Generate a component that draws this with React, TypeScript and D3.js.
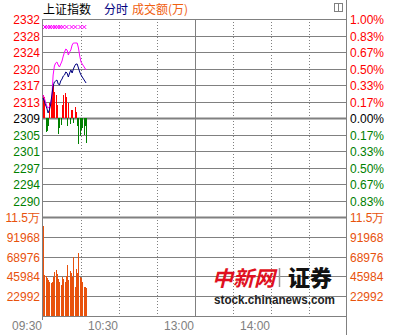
import React from "react";
import * as d3 from "d3";

// ---- data ----
const BASE = 2309.0;
const priceTicks = ["2332", "2328", "2324", "2320", "2317", "2313", "2309", "2305", "2301", "2297", "2294", "2290"];
const pctTicks = ["1.00%", "0.83%", "0.67%", "0.50%", "0.33%", "0.17%", "0.00%", "0.17%", "0.33%", "0.50%", "0.67%", "0.83%"];
const volTicks = ["11.5万", "91968", "68976", "45984", "22992"];
const volTickValues = [114960, 91968, 68976, 45984, 22992];
const timeLabels = ["09:30", "10:30", "13:00", "14:00"];
const timeLabelMinutes = [0, 60, 120, 180];

// index (navy) per minute from 09:30
const indexLine = [
  2313.66, 2312.96, 2312.03, 2311.33, 2310.17, 2310.87, 2312.03, 2314.36, 2316.46, 2317.4,
  2317.63, 2317.86, 2316.93, 2316.7, 2317.63, 2318.09, 2318.79, 2319.03, 2319.73, 2319.49,
  2318.56, 2319.49, 2320.19, 2319.49, 2320.43, 2321.13, 2321.59, 2321.59, 2320.66, 2319.73,
  2319.03, 2318.56, 2318.09, 2317.63, 2317.16,
];
// leading index (magenta)
const leadLine = [
  2314.36, 2313.66, 2312.73, 2311.8, 2311.33, 2311.57, 2312.26, 2313.9, 2319.03, 2321.13,
  2321.83, 2322.06, 2321.36, 2320.89, 2321.59, 2322.29, 2323.46, 2324.39, 2325.09, 2324.86,
  2323.69, 2324.39, 2324.86, 2326.02, 2326.49, 2326.49, 2326.49, 2326.49, 2325.32, 2323.46,
  2322.06, 2321.59, 2321.13, 2320.66, 2320.19,
];
// buy/sell strength bars (points relative to base)
const strength = [
  5.4, 4.9, -3.3, -3.0, -1.9, 3.5, 4.2, 7.9, 7.7, 6.1,
  5.4, 3.0, -3.7, -2.3, -1.6, 3.0, 5.4, 5.8, 4.9, -1.9,
  3.5, -1.4, 1.9, 1.9, -1.2, 2.6, 1.4, -1.9, -6.1, -4.2,
  -2.8, -2.3, -4.0, -1.9, -5.8,
];
// volume per minute (万)
const volume = [
  104500, 47600, 46400, 44100, 41800, 39500, 38300, 40000, 45300, 51100,
  53400, 48800, 43000, 39500, 36000, 45300, 43000, 40000, 46400, 59200,
  41800, 52200, 49900, 45300, 68500, 33700, 54600, 50000, 73100, 45300,
  44100, 39500, 33700, 33700, 32500,
];
const markerMinutes = [0, 2, 4, 6, 8, 10, 12, 14, 17, 21, 24, 28, 31];

// ---- layout ----
const W = 395, H = 335;
const X0 = 43, X1 = 347;
const PY_TOP = 19, PY_BOT = 217;
const VY_TOP = 217, VY_BOT = 316;

const GRAY = "#808080";
const RED = "#ff0000";
const GREEN = "#008000";
const ORANGE = "#e8520c";
const NUM_FONT = "'Liberation Sans', Arial, sans-serif";
const CJK_FONT = "'Noto Sans CJK SC', sans-serif";

export default function App() {
  const x = d3.scaleLinear().domain([0, 240]).range([X0, X1]);
  const y = d3.scaleLinear().domain([BASE * 0.99, BASE * 1.01]).range([PY_BOT, PY_TOP]);
  const yv = d3.scaleLinear().domain([0, 114960]).range([VY_BOT, VY_TOP]);

  const line = d3.line<number>().x((_, i) => x(i)).y((d) => y(d));

  const priceGridY = d3.range(12).map((i) => PY_TOP + (i * (PY_BOT - PY_TOP)) / 12);
  const dotted = [30, 60, 90, 150, 180, 210];

  const labelColor = (i: number) => (i < 6 ? RED : i === 6 ? "#000" : GREEN);

  return (
    <svg width={W} height={H} style={{ position: "absolute", left: 0, top: 0, background: "#fff" }}>
      <rect x={0} y={0} width={W} height={H} fill="#fff" />
      {/* title */}
      <text x={43} y={14} fontFamily={CJK_FONT} fontSize={12} fill="#000">上证指数</text>
      <text x={104} y={14} fontFamily={CJK_FONT} fontSize={12} fill="#000080">分时</text>
      <text x={132} y={14} fontFamily={CJK_FONT} fontSize={12} fill="#f06010">成交额(万)</text>
      {/* icon */}
      <rect x={334.5} y={3.5} width={8} height={8} fill="none" stroke={GRAY} />
      <line x1={338.5} x2={338.5} y1={3.5} y2={11.5} stroke={GRAY} />

      {/* price horizontal grid */}
      {priceGridY.map((gy, i) => (
        <line key={"pg" + i} x1={X0} x2={X1} y1={Math.round(gy) + 0.5} y2={Math.round(gy) + 0.5}
          stroke={GRAY} strokeWidth={i === 6 ? 2 : 1} />
      ))}
      {/* volume grid */}
      {volTickValues.slice(1).map((v, i) => (
        <line key={"vg" + i} x1={X0} x2={X1} y1={Math.round(yv(v)) + 0.5} y2={Math.round(yv(v)) + 0.5}
          stroke={GRAY} strokeWidth={1} />
      ))}
      <line x1={X0} x2={X1} y1={VY_TOP + 0.5} y2={VY_TOP + 0.5} stroke={GRAY} strokeWidth={2} />
      <line x1={42} x2={X1} y1={VY_BOT + 0.5} y2={VY_BOT + 0.5} stroke={GRAY} strokeWidth={1} />
      {/* verticals */}
      {dotted.map((m) => (
        <line key={"dv" + m} x1={Math.round(x(m)) + 0.5} x2={Math.round(x(m)) + 0.5} y1={PY_TOP} y2={VY_BOT}
          stroke={GRAY} strokeDasharray="1,2" />
      ))}
      <line x1={Math.round(x(120)) + 0.5} x2={Math.round(x(120)) + 0.5} y1={PY_TOP} y2={VY_BOT} stroke={GRAY} />
      <line x1={42.5} x2={42.5} y1={PY_TOP} y2={320} stroke={GRAY} />
      <line x1={346.5} x2={346.5} y1={0} y2={H} stroke={GRAY} />

      {/* strength bars */}
      <g shapeRendering="crispEdges">
        {strength.map((s, i) => {
          const y0 = y(BASE), y1 = y(BASE + s);
          return (
            <rect key={"sb" + i} x={Math.round(x(i))} width={1} y={Math.min(y0, y1)} height={Math.abs(y1 - y0)}
              fill={s >= 0 ? RED : GREEN} />
          );
        })}
      </g>

      {/* volume bars */}
      <g shapeRendering="crispEdges">
        {volume.map((v, i) => (
          <rect key={"vb" + i} x={Math.round(x(i))} width={1} y={yv(v)} height={VY_BOT - yv(v)} fill={ORANGE} />
        ))}
      </g>

      {/* lines */}
      <path d={line(leadLine) || ""} fill="none" stroke="#ff00ff" strokeWidth={1} />
      <path d={line(indexLine) || ""} fill="none" stroke="#000080" strokeWidth={1} />

      {/* markers */}
      {markerMinutes.map((m, i) => {
        const cx = x(m) + 2, cy = 27;
        return (
          <g key={"mk" + i} stroke="#ff00ff" strokeWidth={1}>
            <line x1={cx - 2} x2={cx + 2} y1={cy - 2} y2={cy + 2} />
            <line x1={cx - 2} x2={cx + 2} y1={cy + 2} y2={cy - 2} />
          </g>
        );
      })}

      {/* left price labels */}
      {priceTicks.map((t, i) => (
        <text key={"pl" + i} x={40} y={priceGridY[i] + 5} textAnchor="end" fontFamily={NUM_FONT}
          fontSize={12} fill={labelColor(i)}>{t}</text>
      ))}
      {/* right pct labels */}
      {pctTicks.map((t, i) => (
        <text key={"pr" + i} x={350} y={priceGridY[i] + 5} fontFamily={NUM_FONT} fontSize={12}
          fill={labelColor(i)}>{t}</text>
      ))}
      {/* volume labels */}
      {volTicks.map((t, i) => (
        <g key={"vl" + i}>
          <text x={40} y={yv(volTickValues[i]) + 5} textAnchor="end" fontFamily={NUM_FONT} fontSize={12} fill={ORANGE}>{t}</text>
          <text x={350} y={yv(volTickValues[i]) + 5} fontFamily={NUM_FONT} fontSize={12} fill={ORANGE}>{t}</text>
        </g>
      ))}
      {/* time labels */}
      {timeLabels.map((t, i) => (
        <text key={"tl" + i} x={x(timeLabelMinutes[i]) - 1} y={330} textAnchor="end" fontFamily={NUM_FONT}
          fontSize={12} fill={GRAY}>{t}</text>
      ))}

      {/* watermark */}
      <text x={212} y={286} fontFamily={CJK_FONT} fontSize={21} fontWeight={700} fill="#e01020" fontStyle="italic">中新网</text>
      <line x1={279.5} x2={279.5} y1={268} y2={287} stroke="#999" strokeWidth={1.5} />
      <text x={288} y={286} fontFamily={CJK_FONT} fontSize={22} fontWeight={900} fill="#111">证券</text>
      <text x={214} y={304} fontFamily={NUM_FONT} fontSize={12} fontWeight={700} fill="#222" textLength={121}
        lengthAdjust="spacingAndGlyphs">stock.chinanews.com</text>
    </svg>
  );
}
